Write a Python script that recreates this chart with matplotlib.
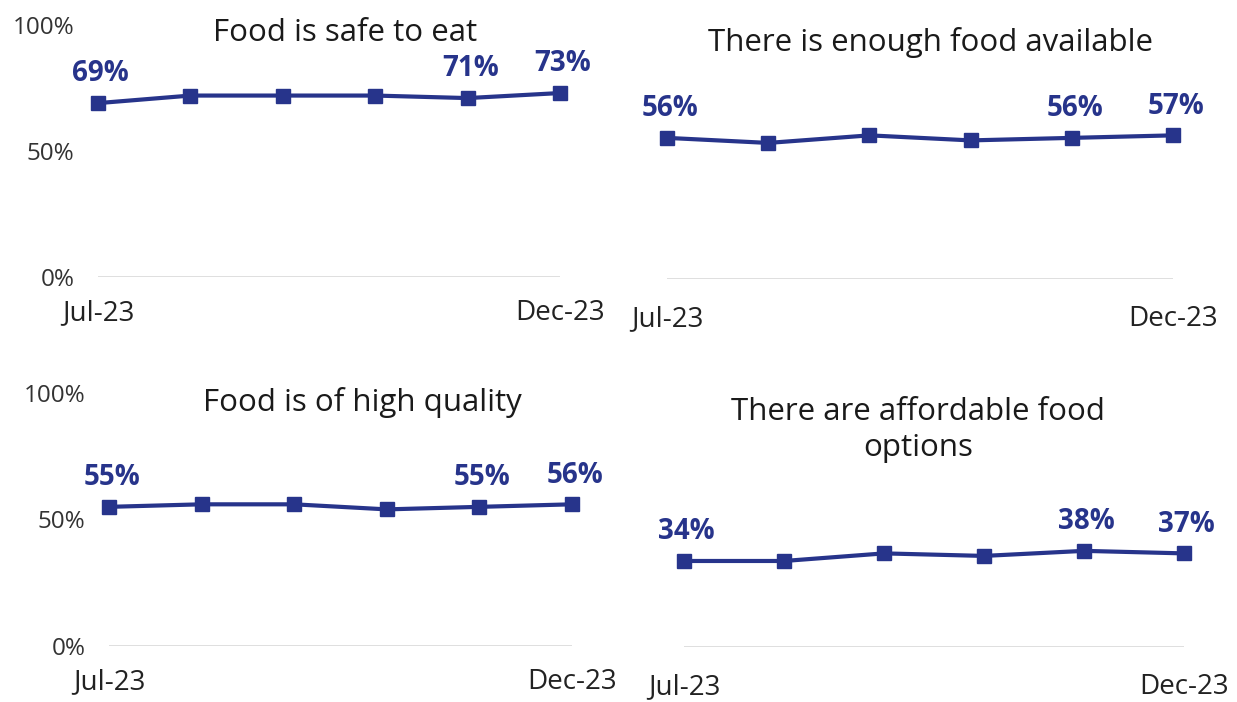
import matplotlib.pyplot as plt
from matplotlib.ticker import FixedLocator

plt.rcParams["font.family"] = ["Open Sans", "DejaVu Sans"]

months = ["Jul-23", "Aug-23", "Sep-23", "Oct-23", "Nov-23", "Dec-23"]
titles = [
    "Food is safe to eat",
    "There is enough food available",
    "Food is of high quality",
    "There are affordable food\noptions",
]
safe = [69, 72, 72, 72, 71, 73]
enough = [56, 54, 57, 55, 56, 57]
quality = [55, 56, 56, 54, 55, 56]
affordable = [34, 34, 37, 36, 38, 37]
series = [safe, enough, quality, affordable]
labelled = [0, 4, 5]  # points that carry a value label

NAVY = "#27348b"
W, H = 1237, 702

# panel boxes in pixels: x of first/last point, y of 0% and 100%
boxes = [(98, 560, 277, 25), (667, 1173, 279, 27), (109, 572, 646, 393), (684, 1184, 647, 394)]
title_pos = [(345, 33), (930, 42), (362, 402), (918, 430)]
show_y = [True, False, True, False]

fig = plt.figure(figsize=(W / 100, H / 100), dpi=100)

for i, vals in enumerate(series):
    x0, x1, yb, yt = boxes[i]
    ax = fig.add_axes([x0 / W, (H - yb) / H, (x1 - x0) / W, (yb - yt) / H])
    xs = list(range(len(months)))
    ax.plot(xs, vals, color=NAVY, lw=3, marker="s", ms=9.5, clip_on=False, zorder=3)
    ax.axhline(0, color="#d9d9d9", lw=1.2, zorder=1)
    ax.set_xlim(0, len(months) - 1)
    ax.set_ylim(0, 100)
    for s in ax.spines.values():
        s.set_visible(False)
    ax.xaxis.set_major_locator(FixedLocator([0, len(months) - 1]))
    ax.set_xticklabels([months[0], months[-1]], fontsize=20, color="#222222")
    ax.tick_params(axis="x", length=0, pad=16 if show_y[i] else 19)
    if show_y[i]:
        ax.set_yticks([0, 50, 100])
        ax.set_yticklabels(["0%", "50%", "100%"], fontsize=17.5, color="#333333")
        ax.tick_params(axis="y", length=0, pad=17)
    else:
        ax.set_yticks([])
    for j in labelled:
        ax.annotate(f"{vals[j]}%", (xs[j], vals[j]), xytext=(2, 21), textcoords="offset points",
                    ha="center", va="center", fontsize=20, fontweight="bold", color=NAVY)
    tx, ty = title_pos[i]
    fig.text(tx / W, 1 - ty / H, titles[i], ha="center", va="center", fontsize=22.5,
             color="#1a1a1a", linespacing=1.3)

fig.savefig("out.png", dpi=100, facecolor="white")
